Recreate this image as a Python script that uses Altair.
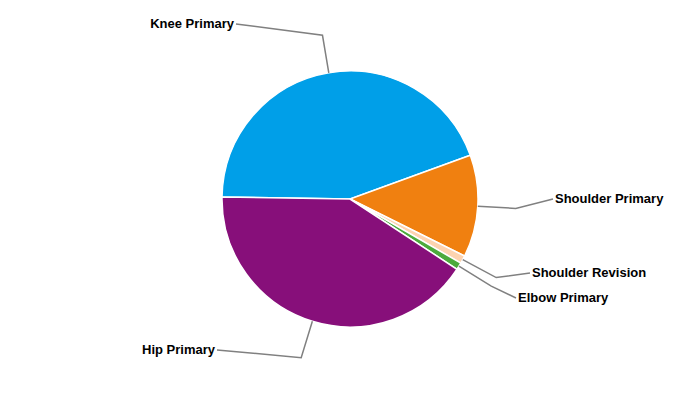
import numpy as np
import pandas as pd
import altair as alt

# ---- data ----
categories = ["Knee Primary", "Shoulder Primary", "Shoulder Revision", "Elbow Primary", "Hip Primary"]
values = [44.2, 12.9, 1.0, 0.9, 41.0]
colors = ["#009fe8", "#f08010", "#fdd3b0", "#4caa3c", "#870f7a"]

# ---- layout (chart coordinates) ----
CX, CY = 342, 191
R = 128
ELBOW_R = 166
START_DEG = 270.9
label_anchor = {
    "Knee Primary": (228, 16, "right"),
    "Shoulder Primary": (545, 191, "left"),
    "Shoulder Revision": (522, 265, "left"),
    "Elbow Primary": (508, 290, "left"),
    "Hip Primary": (209, 342, "right"),
}

total = float(sum(values))
start = np.deg2rad(START_DEG)

df = pd.DataFrame({"category": categories, "value": values, "idx": list(range(len(categories)))})

pie = alt.Chart(df).mark_arc(radius=R, stroke="white", strokeWidth=1.5).encode(
    theta=alt.Theta("value:Q", stack=True,
                    scale=alt.Scale(domain=[0, total], range=[start, start + 2 * np.pi])),
    order=alt.Order("idx:Q"),
    color=alt.Color("category:N", scale=alt.Scale(domain=categories, range=colors), legend=None),
    x=alt.value(CX),
    y=alt.value(CY),
)

# connectors computed from the slice mid-angles
rows = []
texts = []
cum = 0.0
for c, v in zip(categories, values):
    mid = start + 2 * np.pi * (cum + v / 2) / total
    cum += v
    sx, sy = CX + R * np.sin(mid), CY - R * np.cos(mid)
    ex, ey = CX + ELBOW_R * np.sin(mid), CY - ELBOW_R * np.cos(mid)
    lx, ly, al = label_anchor[c]
    rows += [
        {"category": c, "pt": 0, "px": sx, "py": sy},
        {"category": c, "pt": 1, "px": ex, "py": ey},
        {"category": c, "pt": 2, "px": lx, "py": ly},
    ]
    texts.append({"category": c, "tx": lx + (2 if al == "left" else -2), "ty": ly, "align": al})

ldf = pd.DataFrame(rows)
tdf = pd.DataFrame(texts)

lines = alt.Chart(ldf).mark_line(color="#808080", strokeWidth=1.5).encode(
    x=alt.X("px:Q", scale=None),
    y=alt.Y("py:Q", scale=None),
    detail="category:N",
    order="pt:Q",
)

def text_layer(al):
    return alt.Chart(tdf[tdf["align"] == al]).mark_text(
        align=al, baseline="middle", font="Liberation Sans", fontSize=13,
        fontWeight="bold", color="#000000"
    ).encode(
        x=alt.X("tx:Q", scale=None),
        y=alt.Y("ty:Q", scale=None),
        text="category:N",
    )

chart = alt.layer(pie, lines, text_layer("left"), text_layer("right")).properties(
    width=684, height=384, padding=0, autosize="none"
).configure_view(stroke=None)

chart.save("out.html", embed_options={"renderer": "svg", "actions": False})
